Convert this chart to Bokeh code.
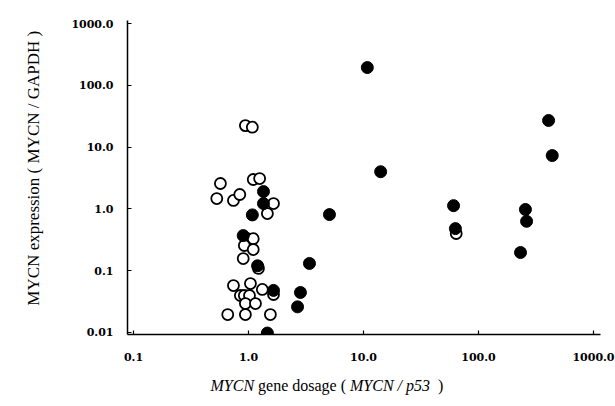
import math
from bokeh.plotting import figure
from bokeh.models import FixedTicker, Range1d
from bokeh.layouts import column, row
from bokeh.core.properties import value
from bokeh.embed import file_html
from bokeh.resources import INLINE

# ---- data ----
open_x = [0.57, 0.53, 0.74, 0.84, 1.10, 1.25, 1.65, 1.46, 0.94, 1.08,
          0.98, 1.10, 0.92, 1.10, 0.90, 1.22, 0.74, 1.04, 1.32, 1.65,
          0.85, 0.92, 1.02, 0.94, 1.15, 0.66, 0.94, 1.55, 64.0]
open_y = [2.58, 1.47, 1.37, 1.71, 2.99, 3.10, 1.22, 0.84, 22.3, 21.0,
          0.33, 0.33, 0.256, 0.22, 0.157, 0.109, 0.0575, 0.062, 0.0497, 0.0412,
          0.0397, 0.0397, 0.0397, 0.0294, 0.0294, 0.0195, 0.0195, 0.0195, 0.40]

filled_x = [1.35, 1.35, 1.08, 0.90, 1.20, 1.65, 1.46, 10.8, 407.0, 438.0,
            14.1, 60.7, 256.0, 262.0, 63.0, 232.0, 5.06, 3.39, 2.83, 2.67]
filled_y = [1.91, 1.22, 0.80, 0.37, 0.12, 0.048, 0.0098, 194.0, 27.0, 7.3,
            4.0, 1.13, 0.98, 0.63, 0.48, 0.197, 0.81, 0.131, 0.0444, 0.026]

x_ticks = [0.1, 1, 10, 100, 1000]
x_tick_labels = ["0.1", "1.0", "10.0", "100.0", "1000.0"]
y_ticks = [0.01, 0.1, 1, 10, 100, 1000]
y_tick_labels = ["0.01", "0.1", "1.0", "10.0", "100.0", "1000.0"]

# (text, style) with style: "it" = serif italic, "rm" = serif roman
x_title = [("MYCN", "it"), (" gene dosage ( ", "rm"), ("MYCN / p53", "it"), ("  )", "rm")]
y_title = "MYCN expression ( MYCN / GAPDH )"

# advance widths per 1000 em (Times-compatible serif)
METRICS = {
    "rm": {' ': 250, '(': 333, ')': 333, '/': 278, '5': 500, '3': 500,
           'a': 444, 'd': 500, 'e': 444, 'g': 500, 'n': 500, 'o': 500,
           's': 389, 'x': 500, 'p': 500, 'r': 333, 'i': 278},
    "it": {'M': 833, 'Y': 556, 'C': 667, 'N': 667, 'G': 722, 'A': 611,
           'P': 611, 'D': 722, 'H': 722, ' ': 250, '/': 278, 'p': 500,
           '5': 500, '3': 500},
}
FONTS = {"rm": ("Liberation Serif", "normal"),
         "it": ("Liberation Serif", "italic")}


def words(pieces, size):
    """Split styled pieces into (offset, word, style); spaces become gaps."""
    out = []
    pos = 0.0
    for s, st in pieces:
        table = METRICS[st]
        cur, start = "", pos
        for c in s:
            w = table.get(c, 500) * size / 1000.0
            if c == " ":
                if cur:
                    out.append((start, cur, st))
                    cur = ""
            else:
                if not cur:
                    start = pos
                cur += c
            pos += w
        if cur:
            out.append((start, cur, st))
    return out


W, H = 615, 406
LEFT_W = 50          # strip holding the y title
BOTTOM_H = 34        # strip holding the x title
PW, PH = W - LEFT_W, H - BOTTOM_H
FL, FR, FT, FB = 127, 600, 20, 334   # frame edges in page pixels
X0, X1 = 0.0887, 1151.0
Y0, Y1 = 0.00928, 1120.0

p = figure(width=PW, height=PH, x_axis_type="log", y_axis_type="log",
           x_range=(X0, X1), y_range=(Y0, Y1),
           output_backend="svg", toolbar_location=None,
           min_border_left=FL - LEFT_W, min_border_right=W - FR,
           min_border_top=FT, min_border_bottom=PH - FB)
p.outline_line_color = None
p.xgrid.visible = False
p.ygrid.visible = False
p.background_fill_color = "white"
p.border_fill_color = "white"

for ax in (p.xaxis[0], p.yaxis[0]):
    ax.axis_line_color = "black"
    ax.axis_line_width = 1.5
    ax.major_tick_line_color = "black"
    ax.major_tick_line_width = 1.2
    ax.major_tick_in = 4
    ax.major_tick_out = 0
    ax.minor_tick_line_color = None
    ax.major_label_text_font = "DejaVu Serif"
    ax.major_label_text_font_style = "bold"
    ax.major_label_text_font_size = "11px"
    ax.major_label_text_color = "black"

p.xaxis.ticker = FixedTicker(ticks=x_ticks)
p.xaxis.major_label_overrides = {t: l for t, l in zip(x_ticks, x_tick_labels)}
p.xaxis.major_label_standoff = 18
p.yaxis.ticker = FixedTicker(ticks=y_ticks)
p.yaxis.major_label_standoff = 14
p.yaxis.major_label_overrides = {t: l for t, l in zip(y_ticks, y_tick_labels)}

p.scatter(open_x, open_y, size=11, marker="circle", fill_color="white",
          line_color="black", line_width=1.8)
p.scatter(filled_x, filled_y, size=12, marker="circle", fill_color="black",
          line_color="black", line_width=1)


def strip(width, height, x_rng, y_rng):
    f = figure(width=width, height=height, x_range=x_rng, y_range=y_rng,
               title=None, output_backend="svg", toolbar_location=None,
               x_axis_location=None, y_axis_location=None,
               min_border=0, min_border_left=0, min_border_right=0,
               min_border_top=0, min_border_bottom=0)
    f.outline_line_color = None
    f.xgrid.visible = False
    f.ygrid.visible = False
    f.background_fill_color = "white"
    f.border_fill_color = "white"
    return f


# x title strip: coordinates are page pixels (y flipped)
xs = strip(W, BOTTOM_H, Range1d(0, W), Range1d(H, PH))
fs = 16
x_start = 210.0
for off, wtxt, st in words(x_title, fs):
    font, style = FONTS[st]
    xs.text(x=[x_start + off], y=[385], text=[wtxt], text_font=value(font),
            text_font_size=f"{fs}px", text_font_style=style,
            text_color="black", text_baseline="alphabetic", text_align="left")

# y title strip (one rotated string, centred on the axis span)
ys = strip(LEFT_W, PH, Range1d(0, LEFT_W), Range1d(PH, 0))
ys.text(x=[33], y=[175], text=[y_title], angle=math.pi / 2,
        text_font=value("Liberation Serif"), text_font_size="17px",
        text_color="black", text_baseline="middle", text_align="center")

layout = column(row(ys, p), xs)
open("out.html", "w").write(file_html(layout, INLINE))
